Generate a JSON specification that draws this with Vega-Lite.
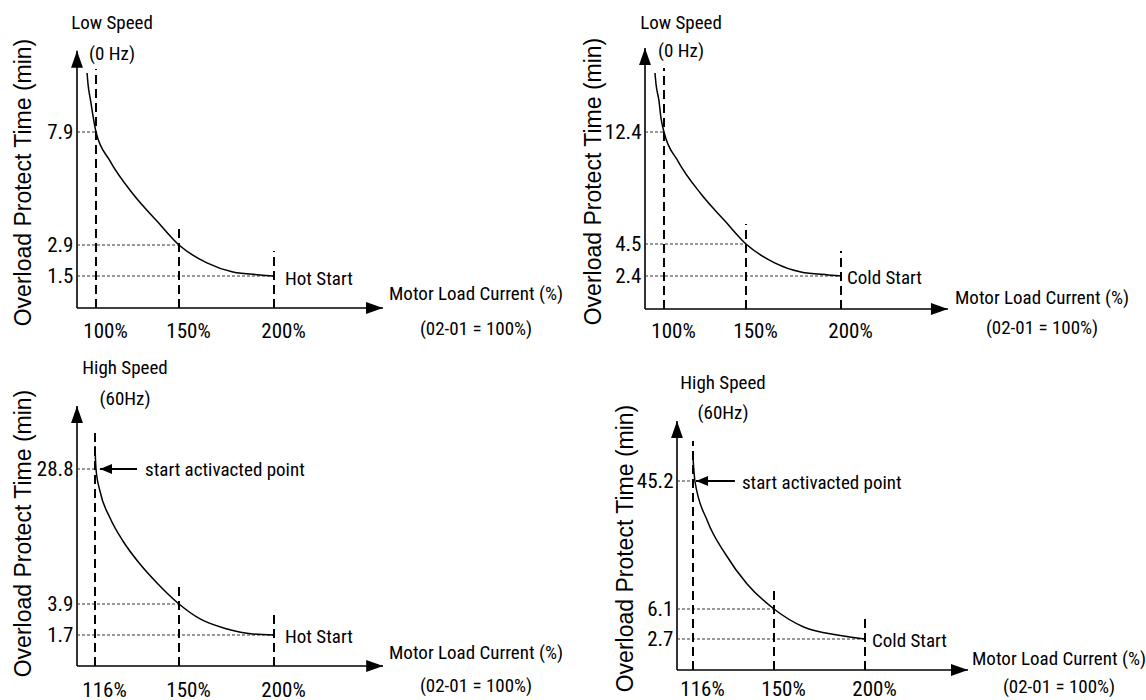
{
  "$schema": "https://vega.github.io/schema/vega-lite/v6.json",
  "padding": {"left": 11, "top": 13, "right": 0, "bottom": 0},
  "background": "white",
  "bounds": "flush",
  "columns": 2,
  "spacing": {"row": 92, "column": 262},
  "config": {
    "view": {"stroke": null},
    "axis": {"domain": false, "ticks": false, "tickSize": 0, "grid": false, "labelFont": "Roboto Condensed", "labelFontSize": 21, "labelColor": "#000", "labelOverlap": false, "labelFlush": false, "titleFont": "Liberation Sans, Arial, sans-serif", "titleFontSize": 23, "titleFontWeight": "normal", "titleColor": "#000"},
    "axisX": {"labelPadding": 11, "labelOffset": 9},
    "axisY": {"labelPadding": 4, "titleBaseline": "bottom", "titleAlign": "center", "titleAngle": 270},
    "text": {"font": "Roboto Condensed", "fontSize": 19, "color": "#000"},
    "rule": {"color": "#000"},
    "line": {"color": "#000"},
    "point": {"color": "#000"}
  },
  "concat": [
        {
          "width": 306, "height": 264,
          "data": {"values": [
            {"kind": "axis", "x": 90, "y": 0, "x2": 90, "y2": 11.5},
            {"kind": "axis", "x": 90, "y": 0, "x2": 255, "y2": 0},
            {"kind": "up", "x": 90, "y": 11.12},
            {"kind": "right", "x": 250.7, "y": 0},
            {"kind": "v", "x": 100, "y": 0, "y2": 10.69},
            {"kind": "v", "x": 150, "y": 0, "y2": 3.78},
            {"kind": "v", "x": 200, "y": 0, "y2": 2.63},
            {"kind": "h", "x": 90, "x2": 100, "y": 7.9},
            {"kind": "h", "x": 90, "x2": 150, "y": 2.9},
            {"kind": "h", "x": 90, "x2": 200, "y": 1.5},
            {"kind": "c", "x": 95.3, "y": 10.51},
            {"kind": "c", "x": 95.8, "y": 10.02},
            {"kind": "c", "x": 97.2, "y": 9.27},
            {"kind": "c", "x": 98.6, "y": 8.52},
            {"kind": "c", "x": 100, "y": 7.9},
            {"kind": "c", "x": 108.4, "y": 6.62},
            {"kind": "c", "x": 122.3, "y": 5.16},
            {"kind": "c", "x": 136.7, "y": 3.96},
            {"kind": "c", "x": 150, "y": 2.9},
            {"kind": "c", "x": 164.7, "y": 2.09},
            {"kind": "c", "x": 178.4, "y": 1.68},
            {"kind": "c", "x": 192.6, "y": 1.55},
            {"kind": "c", "x": 200, "y": 1.5},
            {"kind": "end", "x": 200, "y": 1.5, "text": "Hot Start"},
            {"kind": "speed", "x": 100, "y": 11.5, "text": "Low Speed\n(0 Hz)"},
            {"kind": "motor", "x": 255, "y": 0, "text": "Motor Load Current (%)\n(02-01 = 100%)"}
          ]},
          "layer": [
            {"transform": [{"filter": "datum.kind === 'axis'"}], "mark": {"type": "rule", "strokeWidth": 1.6},
             "encoding": {
               "x": {"field": "x", "type": "quantitative", "scale": {"domain": [90, 100, 150, 200, 255], "range": [0, 19, 102, 197, 306], "nice": false, "zero": false}, "axis": {"values": [100, 150, 200], "labelExpr": "datum.value + '%'", "title": null}},
               "y": {"field": "y", "type": "quantitative", "scale": {"domain": [0, 1.5, 2.9, 7.9, 11.75], "range": [263, 231, 200, 87, 0], "nice": false, "zero": false}, "axis": {"values": [1.5, 2.9, 7.9], "format": ".1f", "title": "Overload Protect Time (min)", "titleX": -42, "titleY": 137}},
               "x2": {"field": "x2"}, "y2": {"field": "y2"}}},
            {"transform": [{"filter": "datum.kind === 'h'"}], "mark": {"type": "rule", "strokeWidth": 1, "strokeDash": [3, 2], "color": "#333"},
             "encoding": {"x": {"field": "x", "type": "quantitative"}, "x2": {"field": "x2"}, "y": {"field": "y", "type": "quantitative"}}},
            {"transform": [{"filter": "datum.kind === 'v'"}], "mark": {"type": "rule", "strokeWidth": 2, "strokeDash": [9, 5]},
             "encoding": {"x": {"field": "x", "type": "quantitative"}, "y": {"field": "y", "type": "quantitative"}, "y2": {"field": "y2"}}},
            {"transform": [{"filter": "datum.kind === 'c'"}], "mark": {"type": "line", "interpolate": "monotone", "strokeWidth": 1.5},
             "encoding": {"x": {"field": "x", "type": "quantitative"}, "y": {"field": "y", "type": "quantitative"}}},
            {"transform": [{"filter": "datum.kind === 'up'"}], "mark": {"type": "point", "shape": "M0,-1L0.7,1L-0.7,1Z", "size": 289, "filled": true, "opacity": 1},
             "encoding": {"x": {"field": "x", "type": "quantitative"}, "y": {"field": "y", "type": "quantitative"}}},
            {"transform": [{"filter": "datum.kind === 'right'"}], "mark": {"type": "point", "shape": "M1,0L-1,-0.7L-1,0.7Z", "size": 289, "filled": true, "opacity": 1},
             "encoding": {"x": {"field": "x", "type": "quantitative"}, "y": {"field": "y", "type": "quantitative"}}},
            {"transform": [{"filter": "datum.kind === 'end'"}], "mark": {"type": "text", "align": "left", "baseline": "middle", "dx": 11, "dy": 3},
             "encoding": {"x": {"field": "x", "type": "quantitative"}, "y": {"field": "y", "type": "quantitative"}, "text": {"field": "text", "type": "nominal"}}},
            {"transform": [{"filter": "datum.kind === 'speed'"}], "mark": {"type": "text", "align": "center", "baseline": "middle", "lineBreak": "\n", "lineHeight": 31, "dx": 16, "dy": -28},
             "encoding": {"x": {"field": "x", "type": "quantitative"}, "y": {"field": "y", "type": "quantitative"}, "text": {"field": "text", "type": "nominal"}}},
            {"transform": [{"filter": "datum.kind === 'motor'"}], "mark": {"type": "text", "align": "center", "baseline": "middle", "lineBreak": "\n", "lineHeight": 35, "dx": 93, "dy": -14},
             "encoding": {"x": {"field": "x", "type": "quantitative"}, "y": {"field": "y", "type": "quantitative"}, "text": {"field": "text", "type": "nominal"}}}
          ]
        },
        {
          "width": 303, "height": 264,
          "data": {"values": [
            {"kind": "axis", "x": 90, "y": 0, "x2": 90, "y2": 18.32},
            {"kind": "axis", "x": 90, "y": 0, "x2": 255, "y2": 0},
            {"kind": "up", "x": 90, "y": 17.72},
            {"kind": "right", "x": 250.6, "y": 0},
            {"kind": "v", "x": 100, "y": 0, "y2": 16.91},
            {"kind": "v", "x": 150, "y": 0, "y2": 5.91},
            {"kind": "v", "x": 200, "y": 0, "y2": 4.04},
            {"kind": "h", "x": 90, "x2": 100, "y": 12.4},
            {"kind": "h", "x": 90, "x2": 150, "y": 4.5},
            {"kind": "h", "x": 90, "x2": 200, "y": 2.4},
            {"kind": "c", "x": 95.26, "y": 16.56},
            {"kind": "c", "x": 95.79, "y": 15.79},
            {"kind": "c", "x": 97.37, "y": 14.59},
            {"kind": "c", "x": 98.4, "y": 13.39},
            {"kind": "c", "x": 100, "y": 12.4},
            {"kind": "c", "x": 108.5, "y": 10.35},
            {"kind": "c", "x": 122.6, "y": 8.03},
            {"kind": "c", "x": 137.2, "y": 6.12},
            {"kind": "c", "x": 150, "y": 4.5},
            {"kind": "c", "x": 165.3, "y": 3.25},
            {"kind": "c", "x": 178.9, "y": 2.66},
            {"kind": "c", "x": 193.2, "y": 2.47},
            {"kind": "c", "x": 200, "y": 2.4},
            {"kind": "end", "x": 200, "y": 2.4, "text": "Cold Start"},
            {"kind": "speed", "x": 100, "y": 18.32, "text": "Low Speed\n(0 Hz)"},
            {"kind": "motor", "x": 255, "y": 0, "text": "Motor Load Current (%)\n(02-01 = 100%)"}
          ]},
          "layer": [
            {"transform": [{"filter": "datum.kind === 'axis'"}], "mark": {"type": "rule", "strokeWidth": 1.6},
             "encoding": {
               "x": {"field": "x", "type": "quantitative", "scale": {"domain": [90, 100, 150, 200, 255], "range": [0, 19, 101, 196, 303], "nice": false, "zero": false}, "axis": {"values": [100, 150, 200], "labelExpr": "datum.value + '%'", "title": null}},
               "y": {"field": "y", "type": "quantitative", "scale": {"domain": [0, 2.4, 4.5, 12.4, 18.54], "range": [264, 231, 199, 87, 0], "nice": false, "zero": false}, "axis": {"values": [2.4, 4.5, 12.4], "format": ".1f", "title": "Overload Protect Time (min)", "titleX": -40, "titleY": 136}},
               "x2": {"field": "x2"}, "y2": {"field": "y2"}}},
            {"transform": [{"filter": "datum.kind === 'h'"}], "mark": {"type": "rule", "strokeWidth": 1, "strokeDash": [3, 2], "color": "#333"},
             "encoding": {"x": {"field": "x", "type": "quantitative"}, "x2": {"field": "x2"}, "y": {"field": "y", "type": "quantitative"}}},
            {"transform": [{"filter": "datum.kind === 'v'"}], "mark": {"type": "rule", "strokeWidth": 2, "strokeDash": [9, 5]},
             "encoding": {"x": {"field": "x", "type": "quantitative"}, "y": {"field": "y", "type": "quantitative"}, "y2": {"field": "y2"}}},
            {"transform": [{"filter": "datum.kind === 'c'"}], "mark": {"type": "line", "interpolate": "monotone", "strokeWidth": 1.5},
             "encoding": {"x": {"field": "x", "type": "quantitative"}, "y": {"field": "y", "type": "quantitative"}}},
            {"transform": [{"filter": "datum.kind === 'up'"}], "mark": {"type": "point", "shape": "M0,-1L0.7,1L-0.7,1Z", "size": 289, "filled": true, "opacity": 1},
             "encoding": {"x": {"field": "x", "type": "quantitative"}, "y": {"field": "y", "type": "quantitative"}}},
            {"transform": [{"filter": "datum.kind === 'right'"}], "mark": {"type": "point", "shape": "M1,0L-1,-0.7L-1,0.7Z", "size": 289, "filled": true, "opacity": 1},
             "encoding": {"x": {"field": "x", "type": "quantitative"}, "y": {"field": "y", "type": "quantitative"}}},
            {"transform": [{"filter": "datum.kind === 'end'"}], "mark": {"type": "text", "align": "left", "baseline": "middle", "dx": 6, "dy": 2},
             "encoding": {"x": {"field": "x", "type": "quantitative"}, "y": {"field": "y", "type": "quantitative"}, "text": {"field": "text", "type": "nominal"}}},
            {"transform": [{"filter": "datum.kind === 'speed'"}], "mark": {"type": "text", "align": "center", "baseline": "middle", "lineBreak": "\n", "lineHeight": 28, "dx": 17, "dy": -25},
             "encoding": {"x": {"field": "x", "type": "quantitative"}, "y": {"field": "y", "type": "quantitative"}, "text": {"field": "text", "type": "nominal"}}},
            {"transform": [{"filter": "datum.kind === 'motor'"}], "mark": {"type": "text", "align": "center", "baseline": "middle", "lineBreak": "\n", "lineHeight": 30, "dx": 94, "dy": -11},
             "encoding": {"x": {"field": "x", "type": "quantitative"}, "y": {"field": "y", "type": "quantitative"}, "text": {"field": "text", "type": "nominal"}}}
          ]
        },
        {
          "width": 306, "height": 270,
          "data": {"values": [
            {"kind": "axis", "x": 105, "y": 0, "x2": 105, "y2": 40.42},
            {"kind": "axis", "x": 105, "y": 0, "x2": 255, "y2": 0},
            {"kind": "up", "x": 105, "y": 38.86},
            {"kind": "right", "x": 250.8, "y": 0},
            {"kind": "v", "x": 116, "y": 0, "y2": 36.36},
            {"kind": "v", "x": 150, "y": 0, "y2": 7.59},
            {"kind": "v", "x": 200, "y": 0, "y2": 3.4},
            {"kind": "h", "x": 105, "x2": 116, "y": 28.8},
            {"kind": "h", "x": 105, "x2": 150, "y": 3.9},
            {"kind": "h", "x": 105, "x2": 200, "y": 1.7},
            {"kind": "c", "x": 116, "y": 33.04},
            {"kind": "c", "x": 116.4, "y": 28.8},
            {"kind": "c", "x": 118, "y": 24.74},
            {"kind": "c", "x": 122.1, "y": 19.76},
            {"kind": "c", "x": 127.3, "y": 15.52},
            {"kind": "c", "x": 134.2, "y": 11.27},
            {"kind": "c", "x": 141.1, "y": 7.77},
            {"kind": "c", "x": 150, "y": 3.9},
            {"kind": "c", "x": 161.1, "y": 2.84},
            {"kind": "c", "x": 175.3, "y": 2.13},
            {"kind": "c", "x": 188.9, "y": 1.77},
            {"kind": "c", "x": 200, "y": 1.7},
            {"kind": "al", "x": 118, "x2": 133, "y": 28.8},
            {"kind": "left", "x": 120.45, "y": 28.8},
            {"kind": "note", "x": 133, "y": 28.8, "text": "start activacted point"},
            {"kind": "end", "x": 200, "y": 1.7, "text": "Hot Start"},
            {"kind": "speed", "x": 116, "y": 40.42, "text": "High Speed\n(60Hz)"},
            {"kind": "motor", "x": 255, "y": 0, "text": "Motor Load Current (%)\n(02-01 = 100%)"}
          ]},
          "layer": [
            {"transform": [{"filter": "datum.kind === 'axis'"}], "mark": {"type": "rule", "strokeWidth": 1.6},
             "encoding": {
               "x": {"field": "x", "type": "quantitative", "scale": {"domain": [105, 116, 150, 200, 255], "range": [0, 18, 102, 197, 306], "nice": false, "zero": false}, "axis": {"values": [116, 150, 200], "labelExpr": "datum.value + '%'", "labelPadding": 8, "title": null}},
               "y": {"field": "y", "type": "quantitative", "scale": {"domain": [0, 1.7, 3.9, 28.8, 41.35], "range": [265, 234, 203, 68, 0], "nice": false, "zero": false}, "axis": {"values": [1.7, 3.9, 28.8], "format": ".1f", "title": "Overload Protect Time (min)", "titleX": -42, "titleY": 132}},
               "x2": {"field": "x2"}, "y2": {"field": "y2"}}},
            {"transform": [{"filter": "datum.kind === 'h'"}], "mark": {"type": "rule", "strokeWidth": 1, "strokeDash": [3, 2], "color": "#333"},
             "encoding": {"x": {"field": "x", "type": "quantitative"}, "x2": {"field": "x2"}, "y": {"field": "y", "type": "quantitative"}}},
            {"transform": [{"filter": "datum.kind === 'v'"}], "mark": {"type": "rule", "strokeWidth": 2, "strokeDash": [9, 5]},
             "encoding": {"x": {"field": "x", "type": "quantitative"}, "y": {"field": "y", "type": "quantitative"}, "y2": {"field": "y2"}}},
            {"transform": [{"filter": "datum.kind === 'c'"}], "mark": {"type": "line", "interpolate": "monotone", "strokeWidth": 1.5},
             "encoding": {"x": {"field": "x", "type": "quantitative"}, "y": {"field": "y", "type": "quantitative"}}},
            {"transform": [{"filter": "datum.kind === 'al'"}], "mark": {"type": "rule", "strokeWidth": 2},
             "encoding": {"x": {"field": "x", "type": "quantitative"}, "x2": {"field": "x2"}, "y": {"field": "y", "type": "quantitative"}}},
            {"transform": [{"filter": "datum.kind === 'up'"}], "mark": {"type": "point", "shape": "M0,-1L0.7,1L-0.7,1Z", "size": 289, "filled": true, "opacity": 1},
             "encoding": {"x": {"field": "x", "type": "quantitative"}, "y": {"field": "y", "type": "quantitative"}}},
            {"transform": [{"filter": "datum.kind === 'right'"}], "mark": {"type": "point", "shape": "M1,0L-1,-0.7L-1,0.7Z", "size": 289, "filled": true, "opacity": 1},
             "encoding": {"x": {"field": "x", "type": "quantitative"}, "y": {"field": "y", "type": "quantitative"}}},
            {"transform": [{"filter": "datum.kind === 'left'"}], "mark": {"type": "point", "shape": "M-1,0L1,-0.85L1,0.85Z", "size": 144, "filled": true, "opacity": 1},
             "encoding": {"x": {"field": "x", "type": "quantitative"}, "y": {"field": "y", "type": "quantitative"}}},
            {"transform": [{"filter": "datum.kind === 'note'"}], "mark": {"type": "text", "align": "left", "baseline": "middle", "dx": 8, "dy": 1},
             "encoding": {"x": {"field": "x", "type": "quantitative"}, "y": {"field": "y", "type": "quantitative"}, "text": {"field": "text", "type": "nominal"}}},
            {"transform": [{"filter": "datum.kind === 'end'"}], "mark": {"type": "text", "align": "left", "baseline": "middle", "dx": 11, "dy": 2},
             "encoding": {"x": {"field": "x", "type": "quantitative"}, "y": {"field": "y", "type": "quantitative"}, "text": {"field": "text", "type": "nominal"}}},
            {"transform": [{"filter": "datum.kind === 'speed'"}], "mark": {"type": "text", "align": "center", "baseline": "middle", "lineBreak": "\n", "lineHeight": 31, "dx": 30, "dy": -38},
             "encoding": {"x": {"field": "x", "type": "quantitative"}, "y": {"field": "y", "type": "quantitative"}, "text": {"field": "text", "type": "nominal"}}},
            {"transform": [{"filter": "datum.kind === 'motor'"}], "mark": {"type": "text", "align": "center", "baseline": "middle", "lineBreak": "\n", "lineHeight": 33, "dx": 93, "dy": -13},
             "encoding": {"x": {"field": "x", "type": "quantitative"}, "y": {"field": "y", "type": "quantitative"}, "text": {"field": "text", "type": "nominal"}}}
          ]
        },
        {
          "width": 323, "height": 270,
          "data": {"values": [
            {"kind": "axis", "x": 105, "y": 0, "x2": 105, "y2": 63.53},
            {"kind": "axis", "x": 105, "y": 0, "x2": 255, "y2": 0},
            {"kind": "up", "x": 105, "y": 60.93},
            {"kind": "right", "x": 250.45, "y": 0},
            {"kind": "v", "x": 116, "y": 0, "y2": 57.42},
            {"kind": "v", "x": 150, "y": 0, "y2": 12.21},
            {"kind": "v", "x": 200, "y": 0, "y2": 5.53},
            {"kind": "h", "x": 105, "x2": 116, "y": 45.2},
            {"kind": "h", "x": 105, "x2": 150, "y": 6.1},
            {"kind": "h", "x": 105, "x2": 200, "y": 2.7},
            {"kind": "c", "x": 116, "y": 52.2},
            {"kind": "c", "x": 116.8, "y": 45.2},
            {"kind": "c", "x": 122.05, "y": 32.98},
            {"kind": "c", "x": 129.6, "y": 22.9},
            {"kind": "c", "x": 138.7, "y": 13.74},
            {"kind": "c", "x": 150, "y": 6.1},
            {"kind": "c", "x": 166.3, "y": 4.06},
            {"kind": "c", "x": 185.6, "y": 3.12},
            {"kind": "c", "x": 200, "y": 2.7},
            {"kind": "al", "x": 117.26, "x2": 133.6, "y": 45.2},
            {"kind": "left", "x": 119.8, "y": 45.2},
            {"kind": "note", "x": 133.6, "y": 45.2, "text": "start activacted point"},
            {"kind": "end", "x": 200, "y": 2.7, "text": "Cold Start"},
            {"kind": "speed", "x": 116, "y": 63.53, "text": "High Speed\n(60Hz)"},
            {"kind": "motor", "x": 255, "y": 0, "text": "Motor Load Current (%)\n(02-01 = 100%)"}
          ]},
          "layer": [
            {"transform": [{"filter": "datum.kind === 'axis'"}], "mark": {"type": "rule", "strokeWidth": 1.6},
             "encoding": {
               "x": {"field": "x", "type": "quantitative", "scale": {"domain": [105, 116, 150, 200, 255], "range": [32, 48, 129, 220, 323], "nice": false, "zero": false}, "axis": {"values": [116, 150, 200], "labelExpr": "datum.value + '%'", "labelPadding": 7, "title": null}},
               "y": {"field": "y", "type": "quantitative", "scale": {"domain": [0, 2.7, 6.1, 45.2, 69.6], "range": [269, 238, 208, 80, 0], "nice": false, "zero": false}, "axis": {"values": [2.7, 6.1, 45.2], "format": ".1f", "offset": -32, "title": "Overload Protect Time (min)", "titleX": -40, "titleY": 147}},
               "x2": {"field": "x2"}, "y2": {"field": "y2"}}},
            {"transform": [{"filter": "datum.kind === 'h'"}], "mark": {"type": "rule", "strokeWidth": 1, "strokeDash": [3, 2], "color": "#333"},
             "encoding": {"x": {"field": "x", "type": "quantitative"}, "x2": {"field": "x2"}, "y": {"field": "y", "type": "quantitative"}}},
            {"transform": [{"filter": "datum.kind === 'v'"}], "mark": {"type": "rule", "strokeWidth": 2, "strokeDash": [9, 5]},
             "encoding": {"x": {"field": "x", "type": "quantitative"}, "y": {"field": "y", "type": "quantitative"}, "y2": {"field": "y2"}}},
            {"transform": [{"filter": "datum.kind === 'c'"}], "mark": {"type": "line", "interpolate": "monotone", "strokeWidth": 1.5},
             "encoding": {"x": {"field": "x", "type": "quantitative"}, "y": {"field": "y", "type": "quantitative"}}},
            {"transform": [{"filter": "datum.kind === 'al'"}], "mark": {"type": "rule", "strokeWidth": 2},
             "encoding": {"x": {"field": "x", "type": "quantitative"}, "x2": {"field": "x2"}, "y": {"field": "y", "type": "quantitative"}}},
            {"transform": [{"filter": "datum.kind === 'up'"}], "mark": {"type": "point", "shape": "M0,-1L0.7,1L-0.7,1Z", "size": 289, "filled": true, "opacity": 1},
             "encoding": {"x": {"field": "x", "type": "quantitative"}, "y": {"field": "y", "type": "quantitative"}}},
            {"transform": [{"filter": "datum.kind === 'right'"}], "mark": {"type": "point", "shape": "M1,0L-1,-0.7L-1,0.7Z", "size": 289, "filled": true, "opacity": 1},
             "encoding": {"x": {"field": "x", "type": "quantitative"}, "y": {"field": "y", "type": "quantitative"}}},
            {"transform": [{"filter": "datum.kind === 'left'"}], "mark": {"type": "point", "shape": "M-1,0L1,-0.85L1,0.85Z", "size": 144, "filled": true, "opacity": 1},
             "encoding": {"x": {"field": "x", "type": "quantitative"}, "y": {"field": "y", "type": "quantitative"}}},
            {"transform": [{"filter": "datum.kind === 'note'"}], "mark": {"type": "text", "align": "left", "baseline": "middle", "dx": 7, "dy": 2},
             "encoding": {"x": {"field": "x", "type": "quantitative"}, "y": {"field": "y", "type": "quantitative"}, "text": {"field": "text", "type": "nominal"}}},
            {"transform": [{"filter": "datum.kind === 'end'"}], "mark": {"type": "text", "align": "left", "baseline": "middle", "dx": 7, "dy": 2},
             "encoding": {"x": {"field": "x", "type": "quantitative"}, "y": {"field": "y", "type": "quantitative"}, "text": {"field": "text", "type": "nominal"}}},
            {"transform": [{"filter": "datum.kind === 'speed'"}], "mark": {"type": "text", "align": "center", "baseline": "middle", "lineBreak": "\n", "lineHeight": 30, "dx": 30, "dy": -38},
             "encoding": {"x": {"field": "x", "type": "quantitative"}, "y": {"field": "y", "type": "quantitative"}, "text": {"field": "text", "type": "nominal"}}},
            {"transform": [{"filter": "datum.kind === 'motor'"}], "mark": {"type": "text", "align": "center", "baseline": "middle", "lineBreak": "\n", "lineHeight": 28, "dx": 91, "dy": -11},
             "encoding": {"x": {"field": "x", "type": "quantitative"}, "y": {"field": "y", "type": "quantitative"}, "text": {"field": "text", "type": "nominal"}}}
          ]
        }
  ]
}
